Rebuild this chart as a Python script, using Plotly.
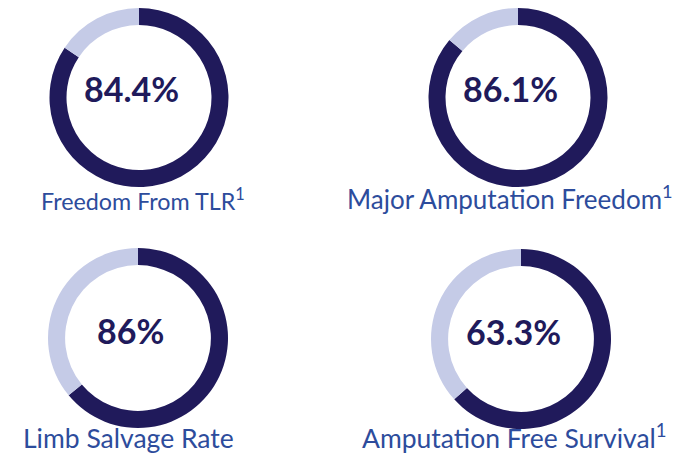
import plotly.graph_objects as go

labels = ["Freedom From TLR<sup>1</sup>", "Major Amputation Freedom<sup>1</sup>",
          "Limb Salvage Rate", "Amputation Free Survival<sup>1</sup>"]
value_text = ["84.4%", "86.1%", "86%", "63.3%"]
arc_filled = [84.4, 86.1, 64.0, 63.3]

W, H = 692, 454
centers = [(131, 89), (510, 89), (130, 330), (513, 331)]
R = 81
label_pos = [(143, 200), (510, 197), (128, 438), (514, 436)]
label_size = [23.3, 26, 26.5, 26.5]

dark = "#201a5b"
light = "#c5cbe7"
label_col = "#2d4c9c"
TEXT_SHIFT = 8  # measured offset of annotation text in this renderer

fig = go.Figure()
for i in range(4):
    cx, cy = centers[i]
    v = arc_filled[i]
    d = R / 0.9
    y0 = max(0.0, 1 - (cy + d) / H)
    y1 = min(1.0, 1 - (cy - d) / H)
    fig.add_trace(go.Pie(
        values=[v, 100 - v],
        marker=dict(colors=[dark, light], line=dict(width=0)),
        hole=0.81, sort=False, direction="clockwise", rotation=0,
        textinfo="none", hoverinfo="skip", showlegend=False,
        domain=dict(x=[(cx - d) / W, (cx + d) / W], y=[y0, y1]),
    ))
    fig.add_annotation(x=(cx - TEXT_SHIFT) / W, y=1 - (cy - TEXT_SHIFT) / H,
                       xref="paper", yref="paper",
                       text=value_text[i], showarrow=False,
                       font=dict(family="Lato", size=34, color=dark, weight="bold"),
                       xanchor="center", yanchor="middle")
for i in range(4):
    lx, ly = label_pos[i]
    fig.add_annotation(x=(lx - TEXT_SHIFT) / W, y=1 - (ly - TEXT_SHIFT) / H,
                       xref="paper", yref="paper",
                       text=labels[i], showarrow=False,
                       font=dict(family="Lato", size=label_size[i], color=label_col),
                       xanchor="center", yanchor="middle")

fig.update_layout(width=W, height=H, margin=dict(l=0, r=0, t=0, b=0),
                  paper_bgcolor="white", plot_bgcolor="white")
fig.write_html("out.html")
